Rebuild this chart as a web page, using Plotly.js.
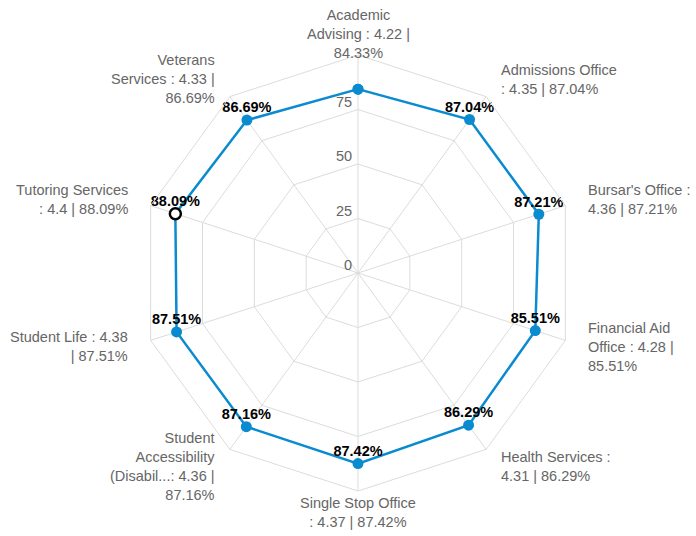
<!DOCTYPE html>
<html>
<head>
<meta charset="utf-8">
<script src="https://cdn.plot.ly/plotly-3.0.1.min.js"></script>
<style>html,body{margin:0;padding:0;background:#fff;}#chart{width:696px;height:536px;}</style>
</head>
<body>
<div id="chart"></div>
<script>
const categories = ["Academic Advising", "Admissions Office", "Bursar's Office", "Financial Aid Office", "Health Services", "Single Stop Office", "Student Accessibility (Disabil...", "Student Life", "Tutoring Services", "Veterans Services"];
const categoryLabels = ["Academic<br>Advising : 4.22 |<br>84.33%", "Admissions Office<br>: 4.35 | 87.04%", "Bursar's Office :<br>4.36 | 87.21%", "Financial Aid<br>Office : 4.28 |<br>85.51%", "Health Services :<br>4.31 | 86.29%", "Single Stop Office<br>: 4.37 | 87.42%", "Student<br>Accessibility<br>(Disabil...: 4.36 |<br>87.16%", "Student Life : 4.38<br>| 87.51%", "Tutoring Services<br>: 4.4 | 88.09%", "Veterans<br>Services : 4.33 |<br>86.69%"];
const values = [84.33, 87.04, 87.21, 85.51, 86.29, 87.42, 87.16, 87.51, 88.09, 86.69];
const pointLabels = ["", "87.04%", "87.21%", "85.51%", "86.29%", "87.42%", "87.16%", "87.51%", "88.09%", "86.69%"];
const highlighted = [false, false, false, false, false, false, false, false, true, false];
const radialTicks = [0, 25, 50, 75];
const radialMax = 100;

const blue = "#0a8bcf";
const fontFam = "Liberation Sans, Arial, sans-serif";
const closeLoop = a => a.concat([a[0]]);

const lineTrace = {
  type: "scatterpolar",
  r: closeLoop(values),
  theta: closeLoop(categories),
  mode: "lines+markers",
  line: {color: blue, width: 2.5},
  marker: {
    size: 11,
    color: closeLoop(highlighted).map(h => h ? "#fff" : blue),
    line: {color: closeLoop(highlighted).map(h => h ? "#000" : blue), width: closeLoop(highlighted).map(h => h ? 2.5 : 0)}
  },
  hoverinfo: "skip",
  cliponaxis: false
};

const textTrace = {
  type: "scatterpolar",
  r: values,
  theta: categories,
  mode: "markers+text",
  text: pointLabels,
  textposition: "top center",
  textfont: {family: fontFam, size: 14.5, color: "#000", weight: "bold"},
  marker: {size: 5, opacity: 0},
  hoverinfo: "skip",
  cliponaxis: false
};

// category labels placed just outside the polygon, following each spoke's angle
const labelRadius = 1.098; // fraction of polar radius
const catAnnotations = categoryLabels.map((lab, i) => {
  const a = i * 2 * Math.PI / categories.length;
  const s = Math.sin(a), c = Math.cos(a);
  const side = s > 0.01 ? "left" : (s < -0.01 ? "right" : "center");
  return {
    xref: "paper", yref: "paper",
    x: 0.5 + 0.5 * labelRadius * s,
    y: 0.5 + 0.5 * labelRadius * c,
    text: lab, showarrow: false,
    xanchor: side, yanchor: "middle", align: side,
    font: {family: fontFam, size: 14.5, color: "#666"}
  };
});

// radial tick labels, drawn left of the vertical spoke at each tick value
const tickAnnotations = radialTicks.map(v => ({
  xref: "paper", yref: "paper",
  x: 0.5, y: 0.5 + 0.5 * v / radialMax,
  xshift: -4, yshift: 8,
  text: String(v), showarrow: false,
  xanchor: "right", yanchor: "middle",
  font: {family: fontFam, size: 14.5, color: "#666"}
}));

const layout = {
  width: 696, height: 536,
  margin: {l: 140, r: 120, t: 55, b: 45},
  paper_bgcolor: "#fff",
  showlegend: false,
  font: {family: fontFam, size: 14.5, color: "#666"},
  annotations: catAnnotations.concat(tickAnnotations),
  polar: {
    domain: {x: [0, 1], y: [0, 1]},
    bgcolor: "#fff",
    gridshape: "linear",
    radialaxis: {
      range: [0, radialMax],
      tickvals: radialTicks,
      angle: 90,
      showticklabels: false,
      showline: false,
      ticks: "",
      gridcolor: "#dcdcdc",
      gridwidth: 1
    },
    angularaxis: {
      direction: "clockwise",
      rotation: 90,
      categoryorder: "array",
      categoryarray: categories,
      gridcolor: "#dcdcdc",
      linecolor: "#dcdcdc",
      linewidth: 1,
      ticks: "",
      showticklabels: false
    }
  }
};

Plotly.newPlot("chart", [lineTrace, textTrace], layout, {displayModeBar: false, staticPlot: true});
</script>
</body>
</html>
